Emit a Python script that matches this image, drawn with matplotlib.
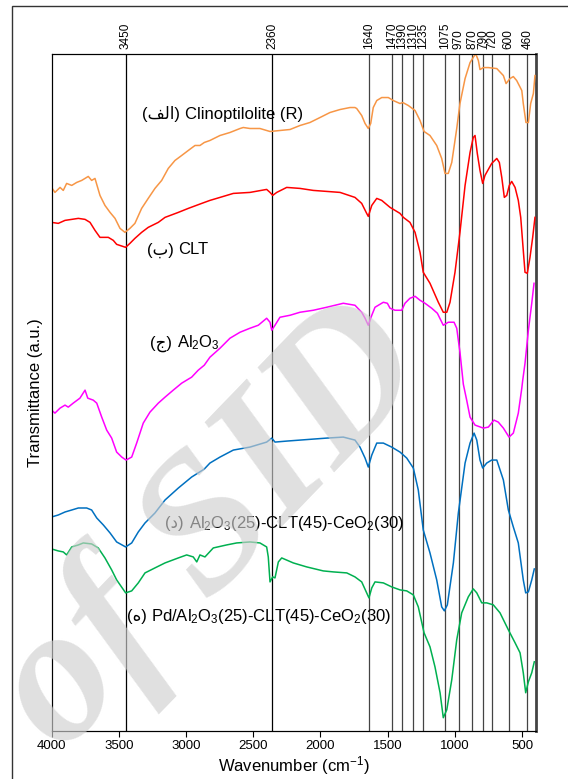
import matplotlib
matplotlib.use('Agg')
import matplotlib.pyplot as plt
from matplotlib.patches import Rectangle

plt.rcParams.update({
    'font.family': ['Liberation Sans', 'DejaVu Sans'],
    'mathtext.fontset': 'custom',
    'mathtext.rm': 'Liberation Sans',
    'mathtext.it': 'Liberation Sans:italic',
    'mathtext.bf': 'Liberation Sans:bold',
    'axes.linewidth': 0.8,
})

# band positions marked on top axis (cm-1)
peaks = [3450, 2360, 1640, 1470, 1390, 1310, 1235, 1075, 970, 870, 790, 720, 600, 460]

# spectra, transmittance in arbitrary (offset) units
clino_wn = [4000, 3975, 3937, 3913, 3888, 3850, 3813, 3776, 3727, 3702, 3677, 3640, 3603, 3565, 3528, 3491,
            3454, 3417, 3380, 3330, 3281, 3231, 3181, 3132, 3082, 3032, 2983, 2933, 2896, 2864, 2822, 2747,
            2673, 2598, 2574, 2524, 2450, 2375, 2301, 2226, 2152, 2078, 2003, 1929, 1854, 1780, 1743, 1730,
            1693, 1668, 1644, 1626, 1607, 1581, 1544, 1495, 1458, 1408, 1387, 1346, 1296, 1259, 1229, 1185,
            1135, 1098, 1073, 1049, 1023, 986, 962, 924, 887, 845, 825, 813, 788, 751, 688, 639, 619, 590,
            565, 540, 502, 491, 471, 453, 436, 416, 404]
clino_t = [544, 539, 544, 541, 548, 546, 549, 551, 555, 551, 553, 536, 526, 519, 513, 503,
           499, 503, 508, 523, 533, 543, 551, 563, 571, 576, 581, 586, 586, 589, 591, 596,
           599, 603, 604, 603, 603, 600, 601, 602, 606, 609, 614, 619, 622, 624, 624, 623,
           616, 608, 603, 608, 624, 631, 634, 634, 631, 628, 629, 626, 621, 611, 600, 596,
           586, 573, 558, 558, 569, 603, 628, 653, 669, 678, 671, 662, 664, 664, 663, 656, 648, 653,
           655, 651, 641, 628, 609, 609, 628, 638, 656]

clt_wn = [4000, 3950, 3900, 3850, 3801, 3751, 3714, 3677, 3640, 3578, 3541, 3516, 3449, 3417, 3380, 3330,
          3281, 3206, 3156, 3057, 2983, 2883, 2822, 2747, 2648, 2524, 2400, 2375, 2355, 2325, 2251, 2152,
          2053, 1953, 1854, 1743, 1693, 1656, 1644, 1618, 1581, 1544, 1482, 1408, 1383, 1334, 1296, 1259,
          1235, 1185, 1123, 1086, 1060, 1036, 999, 962, 924, 887, 863, 850, 833, 813, 793, 776, 751, 726,
          688, 669, 651, 632, 614, 595, 577, 552, 528, 510, 491, 478, 461, 441, 421, 404]
clt_t = [509, 508, 511, 512, 513, 512, 509, 501, 494, 494, 491, 487, 484, 488, 493, 499,
         504, 509, 514, 519, 523, 528, 531, 534, 538, 539, 542, 539, 536, 539, 544, 543,
         541, 540, 539, 534, 528, 518, 515, 526, 533, 531, 524, 518, 514, 509, 499, 479,
         459, 448, 429, 419, 419, 429, 459, 499, 546, 579, 594, 596, 578, 561, 548, 556, 562, 568,
         573, 569, 554, 534, 536, 546, 550, 544, 531, 514, 481, 459, 458, 474, 494, 514]

al_wn = [4000, 3975, 3937, 3900, 3876, 3839, 3789, 3751, 3731, 3690, 3664, 3627, 3590, 3553, 3516, 3478,
         3446, 3404, 3367, 3318, 3268, 3206, 3156, 3095, 3032, 2983, 2958, 2909, 2864, 2822, 2747, 2673,
         2598, 2524, 2462, 2400, 2375, 2362, 2338, 2301, 2226, 2152, 2053, 1953, 1830, 1743, 1693, 1668,
         1644, 1618, 1594, 1532, 1502, 1482, 1445, 1395, 1371, 1334, 1296, 1259, 1222, 1172, 1130, 1086,
         1049, 1006, 986, 962, 937, 912, 887, 850, 788, 751, 709, 677, 639, 597, 565, 528, 502, 495,
         478, 453, 428, 411]
al_t = [321, 318, 323, 326, 324, 328, 333, 341, 333, 331, 328, 314, 301, 293, 279, 274,
        271, 274, 288, 308, 319, 328, 334, 341, 348, 352, 354, 361, 366, 374, 383, 393,
        399, 403, 406, 413, 409, 401, 406, 414, 416, 419, 421, 424, 428, 426, 419, 413,
        406, 416, 424, 429, 428, 423, 421, 421, 428, 433, 435, 431, 428, 423, 418, 406,
        409, 409, 403, 379, 347, 331, 314, 306, 303, 304, 311, 309, 303, 294, 298, 318, 343, 351,
        368, 401, 428, 448]

mix_wn = [4000, 3950, 3900, 3850, 3801, 3739, 3702, 3664, 3615, 3565, 3516, 3449, 3404, 3355, 3305, 3231,
          3156, 3057, 2958, 2864, 2822, 2747, 2648, 2524, 2400, 2362, 2338, 2251, 2152, 2053, 1953, 1830,
          1743, 1706, 1668, 1644, 1618, 1581, 1532, 1470, 1408, 1358, 1309, 1272, 1235, 1185, 1135, 1098,
          1078, 1056, 1011, 974, 924, 887, 857, 837, 813, 793, 763, 726, 688, 639, 602, 565, 528, 491,
          473, 453, 428, 409]
mix_t = [214, 216, 219, 221, 223, 223, 221, 213, 206, 198, 189, 184, 188, 199, 208, 218,
         231, 243, 254, 262, 268, 274, 281, 284, 289, 293, 289, 290, 291, 292, 293, 294,
         291, 284, 273, 264, 276, 288, 288, 284, 279, 273, 263, 241, 201, 178, 151, 124,
         120, 126, 168, 218, 268, 288, 298, 291, 271, 263, 268, 271, 271, 251, 221, 204, 188, 151,
         138, 139, 151, 162]

pd_wn = [4000, 3950, 3913, 3888, 3850, 3801, 3764, 3702, 3653, 3603, 3553, 3516, 3449, 3404, 3355, 3305,
         3231, 3156, 3057, 2995, 2946, 2920, 2896, 2859, 2797, 2698, 2623, 2524, 2450, 2400, 2388, 2375,
         2355, 2338, 2313, 2288, 2202, 2102, 1979, 1904, 1804, 1743, 1693, 1656, 1639, 1618, 1594, 1532,
         1470, 1408, 1358, 1309, 1272, 1229, 1185, 1148, 1110, 1086, 1060, 1023, 986, 949, 900, 863,
         837, 800, 763, 714, 664, 602, 552, 515, 491, 473, 453, 428, 409]
pd_t = [182, 180, 179, 176, 184, 186, 188, 187, 183, 173, 161, 151, 138, 140, 148, 158,
        163, 168, 173, 176, 174, 169, 176, 174, 183, 186, 188, 189, 188, 184, 174, 149,
        154, 153, 169, 173, 168, 164, 160, 159, 158, 154, 149, 138, 133, 143, 149, 148,
        144, 141, 140, 136, 124, 98, 84, 64, 38, 13, 21, 51, 91, 118, 134, 142,
        138, 128, 128, 126, 118, 101, 88, 78, 58, 38, 49, 58, 69]

fig = plt.figure(figsize=(5.68, 7.79), dpi=100)
ax = fig.add_axes([0.0908, 0.062, 0.852, 0.8692])

for p in peaks:
    c = 'black' if p > 2000 else '#444444'
    ax.axvline(p, color=c, lw=0.9, zorder=1)

lw = 1.1
ax.plot(clino_wn, clino_t, color='#f79646', lw=lw, zorder=3)
ax.plot(clt_wn, clt_t, color='#ff0000', lw=lw, zorder=3)
ax.plot(al_wn, al_t, color='#ff00ff', lw=lw, zorder=3)
ax.plot(mix_wn, mix_t, color='#0070c0', lw=lw, zorder=3)
ax.plot(pd_wn, pd_t, color='#00b050', lw=lw, zorder=3)

ax.set_xlim(4000, 400)
ax.set_ylim(0, 678)
ax.set_xticks([4000, 3500, 3000, 2500, 2000, 1500, 1000, 500])
ax.tick_params(axis='x', direction='out', length=4, width=0.8, labelsize=9.5, pad=3)
ax.set_yticks([])
ax.spines['right'].set_linewidth(2)
ax.spines['right'].set_color('#444444')
ax.set_xlabel('Wavenumber (cm$^{-1}$)', fontsize=12, labelpad=1)
ax.set_ylabel('Transmittance (a.u.)', fontsize=12, labelpad=6)

top = ax.twiny()
top.set_xlim(ax.get_xlim())
top.set_xticks(peaks)
top.set_xticklabels([str(p) for p in peaks], rotation=90, fontsize=8.5)
top.tick_params(axis='x', length=0, pad=3)
top.spines['right'].set_visible(False)


def tag(x, y, letter, rest):
    t = ax.text(x, y, '(' + letter + ')', fontsize=12, ha='left', va='baseline', zorder=4)
    ax.annotate(rest, xy=(1, y), xycoords=(t, 'data'), xytext=(3.5, 0),
                textcoords='offset points', fontsize=12, ha='left', va='baseline', zorder=4)


tag(3327, 613, '\uFED2\uFEDF\uFE8D', 'Clinoptilolite (R)')
tag(3292, 477, '\uFE8F', 'CLT')
tag(3268, 384, '\uFE9D', r'Al$_2$O$_3$')
tag(3156, 203, '\uFEA9', r'Al$_2$O$_3$(25)-CLT(45)-CeO$_2$(30)')
tag(3441, 110, '\uFEE9', r'Pd/Al$_2$O$_3$(25)-CLT(45)-CeO$_2$(30)')

# page frame
fig.add_artist(Rectangle((12 / 568, -0.1), 2, 1.1 - 6 / 779, transform=fig.transFigure,
                         fill=False, edgecolor='#333333', lw=1))

# watermark
fig.text(0.375, 0.32, 'of SID', fontsize=140, family='Liberation Serif', style='italic',
         weight='bold', color='#cfcfcf', alpha=0.65, rotation=46, ha='center', va='center',
         rotation_mode='anchor', zorder=10)

fig.savefig('out.png', dpi=100)
